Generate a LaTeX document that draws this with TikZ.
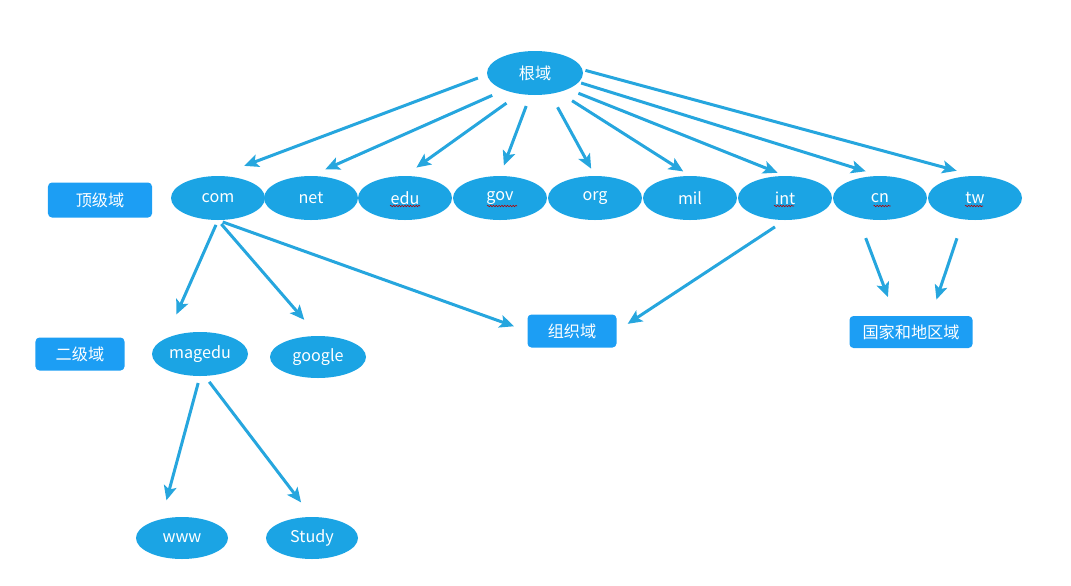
\documentclass[tikz,border=0pt]{standalone}
\usepackage{fontspec}
\newfontfamily\cjk{Noto Sans CJK SC}
\usetikzlibrary{shapes.geometric,arrows.meta,decorations.pathmorphing}
\definecolor{dombl}{RGB}{27,164,228}
\definecolor{boxbl}{RGB}{28,158,244}
\definecolor{arrbl}{RGB}{38,166,222}
\tikzset{
  dom/.style={ellipse,fill=dombl,text=white,inner sep=0pt,
    minimum width=23.5mm,minimum height=11mm,font=\cjk\fontsize{11.5}{13}\selectfont},
  lvl/.style={rectangle,rounded corners=1mm,fill=boxbl,text=white,inner sep=0pt,
    minimum width=22.25mm,minimum height=8.25mm,font=\cjk\fontsize{11.5}{13}\selectfont},
  arr/.style={draw=arrbl,line width=0.75mm,-{Stealth[length=3.6mm,width=3.2mm,inset=0.8mm]}},
  squig/.style={draw=red!70!black,line width=0.4pt,decorate,
    decoration={snake,amplitude=0.5pt,segment length=2pt}}
}
\begin{document}
\begin{tikzpicture}[x=0.25mm,y=-0.25mm]
\useasboundingbox (0,0) rectangle (1071,585);
% root and top-level domains
\node[dom,minimum width=24mm] (root) at (535,73) {根域};
\foreach \n/\x in {com/218,net/311,edu/405,gov/500,org/595,mil/690,int/785,cn/880,tw/975}
  \node[dom] (\n) at (\x,198) {\n};
\foreach \n/\dx/\w in {edu/0/30,gov/2/30,int/-1/20,cn/2/17,tw/-1/18}
  \draw[squig] (\n.center) ++(\dx-\w/2,8) -- ++(\w,0);
% level labels
\node[lvl,minimum width=26mm,minimum height=8.75mm] (top) at (100,200) {顶级域};
\node[lvl] (second) at (80,354) {二级域};
\node[lvl] (orgdom) at (572,331) {组织域};
\node[lvl,minimum width=30.75mm,minimum height=8mm] (country) at (911,332) {国家和地区域};
% second and third level
\node[dom,minimum width=24mm] (magedu) at (200,354) {magedu};
\node[dom,minimum width=24mm,minimum height=10.5mm] (google) at (318,357) {google};
\node[dom,minimum width=23mm,minimum height=10.5mm] (www) at (182,538) {www};
\node[dom,minimum width=23mm,minimum height=10.5mm] (study) at (312,538) {Study};
% arrows from the root
\foreach \n/\a/\b/\s in {com/182/2.4/7,net/209/3.25/3.9,edu/233/3.9/3.5,gov/258/2.9/2.75,
    org/306/3.75/2,mil/321/3.9/2,int/334/2.75/2,cn/348/0.6/3.75,tw/4/0.7/4.75}
  \draw[arr,shorten <=\b mm,shorten >=\s mm] (root.\a) -- (\n.north);
% lower arrows
\draw[arr,shorten <=1.25mm,shorten >=6.5mm] (com.south) -- (magedu.north west);
\draw[arr,shorten <=1.25mm,shorten >=5.25mm] (com.south) -- (google.north);
\draw[arr,shorten <=1.25mm,shorten >=3.5mm] (com.south) -- (orgdom.west);
\draw[arr,shorten <=3mm,shorten >=3.25mm] (int.south) -- (orgdom.east);
\draw[arr,shorten <=4.75mm,shorten >=5mm] ([xshift=-5.25mm]cn.south) -- ([xshift=-4mm]country.north);
\draw[arr,shorten <=4.75mm,shorten >=4.25mm] ([xshift=-3mm]tw.south) -- ([xshift=5mm]country.north);
\draw[arr,shorten <=1.75mm,shorten >=4.25mm] (magedu.south) -- ([xshift=-5mm]www.north);
\draw[arr,shorten <=1.75mm,shorten >=4.5mm] ([xshift=1.25mm]magedu.south) -- (study.north);
\end{tikzpicture}
\end{document}
